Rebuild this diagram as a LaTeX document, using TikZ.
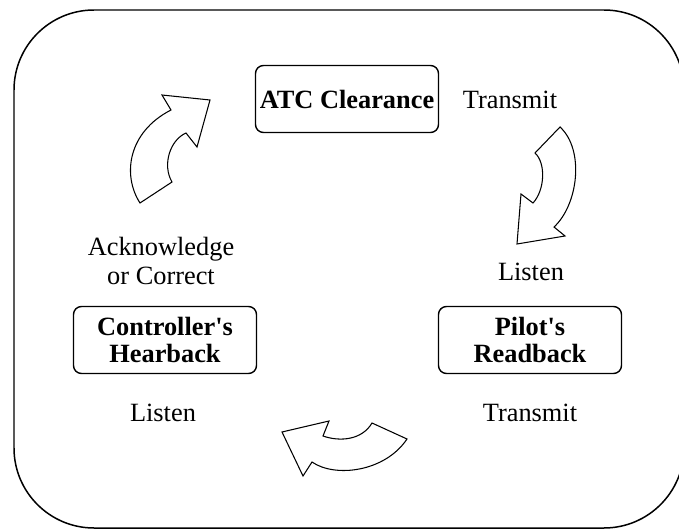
\documentclass[tikz,border=0pt]{standalone}
\usepackage{fontspec}
\setmainfont{Liberation Serif}[Ligatures=TeXOff]

\tikzset{
  stagebox/.style={draw, line width=0.8pt, rounded corners=1.6mm, align=center,
    inner sep=0pt, minimum width=36.6mm, minimum height=13.4mm,
    font=\fontsize{15}{15.5}\selectfont\bfseries},
  steplabel/.style={align=center, inner sep=0pt, font=\fontsize{15}{16}\selectfont},
  blockarrow/.style={draw, line width=0.6pt, fill=white, line join=miter}
}

\begin{document}
\begin{tikzpicture}[x=0.2mm, y=-0.2mm]
  \useasboundingbox (0,0) rectangle (679,529);
  \clip (0,0) rectangle (679,529);

  % outer frame
  \draw[line width=0.85pt, rounded corners=16mm] (14,10) rectangle (684,528);

  % the three stages
  \node[stagebox] (atc) at (347,99) {ATC Clearance};
  \node[stagebox] (pilot) at (530,340) {Pilot's\\Readback};
  \node[stagebox] (ctrl) at (165,340) {Controller's\\Hearback};

  % what happens between them
  \node[steplabel] (tx1) at (510,100) {Transmit};
  \node[steplabel] (ls1) at (531,272) {Listen};
  \node[steplabel] (tx2) at (530,413) {Transmit};
  \node[steplabel] (ls2) at (163,413) {Listen};
  \node[steplabel] (ack) at (161,261) {Acknowledge\\or Correct};

  % curved arrows
  \draw[blockarrow] (140,203) .. controls (122,175) and (128,132) .. (171,110)
    -- (162,95) -- (210,100) -- (197,147) -- (186,133)
    .. controls (170,140) and (162,165) .. (172,182) -- cycle;
  \draw[blockarrow] (560,127) -- (535,153)
    .. controls (546,163) and (545,190) .. (533,203)
    -- (521,194) -- (517,244) -- (565,236) -- (554,227)
    .. controls (578,205) and (585,150) .. (560,127) -- cycle;
  \draw[blockarrow] (282,432) -- (329,421) -- (323,436)
    .. controls (340,442) and (362,440) .. (372,423)
    -- (407,439) .. controls (385,472) and (335,478) .. (312,462)
    -- (303,476) -- cycle;
\end{tikzpicture}
\end{document}
